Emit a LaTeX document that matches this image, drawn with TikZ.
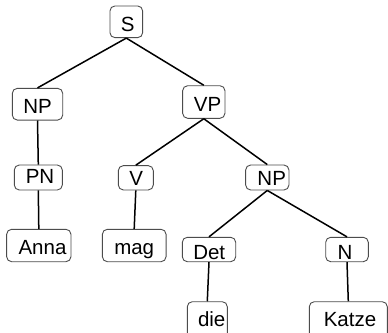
\documentclass[tikz,border=0pt]{standalone}
\usepackage{fontspec}
\setmainfont{Liberation Sans}
\begin{document}
\begin{tikzpicture}[x=1pt,y=-1pt,
  box/.style={draw=black!70, line width=0.9pt, rounded corners=5pt, inner sep=0pt, fill=white},
  lbl/.style={inner sep=0pt, anchor=base, font=\fontsize{20.5}{24}\selectfont},
  edge/.style={line width=1.5pt, black}]
\clip (0,0) rectangle (388,332);
\fill[white] (0,0) rectangle (388,332);
% boxes
\node[box, minimum width=32.7pt, minimum height=31.7pt] (S) at (126.3,21.8) {};
\node[box, minimum width=50.4pt, minimum height=31.7pt] (NP1) at (37.5,104.2) {};
\node[box, minimum width=42.3pt, minimum height=32.6pt] (VP) at (203.8,102) {};
\node[box, minimum width=48pt, minimum height=25pt] (PN) at (38.3,177.5) {};
\node[box, minimum width=35pt, minimum height=24.3pt] (V) at (135.8,177.8) {};
\node[box, minimum width=43.3pt, minimum height=25pt] (NP2) at (267.3,177.5) {};
\node[box, minimum width=64.3pt, minimum height=32.4pt] (Anna) at (38.8,245.5) {};
\node[box, minimum width=63.7pt, minimum height=32.4pt] (mag) at (134.2,245.5) {};
\node[box, minimum width=53.4pt, minimum height=24.4pt] (Det) at (209,249.5) {};
\node[box, minimum width=42.6pt, minimum height=24.4pt] (N) at (347,249.5) {};
\node[box, minimum width=40pt, minimum height=40pt] (die) at (207.3,321.7) {};
\node[box, minimum width=78pt, minimum height=40pt] (Katze) at (348.3,321.7) {};
% texts
\node[lbl] (S-t) at (127.8,31.3) {S};
\node[lbl] (NP1-t) at (37.5,113.3) {NP};
\node[lbl] (VP-t) at (207.5,111.7) {VP};
\node[lbl] (PN-t) at (40,183.3) {PN};
\node[lbl] (V-t) at (136.3,185.5) {V};
\node[lbl] (NP2-t) at (271.7,185) {NP};
\node[lbl] (Anna-t) at (42.5,254.3) {Anna};
\node[lbl] (mag-t) at (134.2,254) {mag};
\node[lbl] (Det-t) at (209.2,259) {Det};
\node[lbl] (N-t) at (345,259) {N};
\node[lbl] (die-t) at (211.7,326) {die};
\node[lbl] (Katze-t) at (350,326) {Katze};
% connectors
\draw[edge] (S.south) -- (NP1.north);
\draw[edge] (S.south) -- (VP.north);
\draw[edge] (NP1.south) -- (PN.north);
\draw[edge] (PN.south) -- (Anna.north);
\draw[edge] (VP.south) -- (V.north);
\draw[edge] (VP.south) -- (NP2.north);
\draw[edge] (V.south) -- (mag.north);
\draw[edge] (NP2.south) -- (Det.north);
\draw[edge] (NP2.south) -- (N.north);
\draw[edge] (Det.south) -- (die.north);
\draw[edge] (N.south) -- (Katze.north);
\end{tikzpicture}
\end{document}
